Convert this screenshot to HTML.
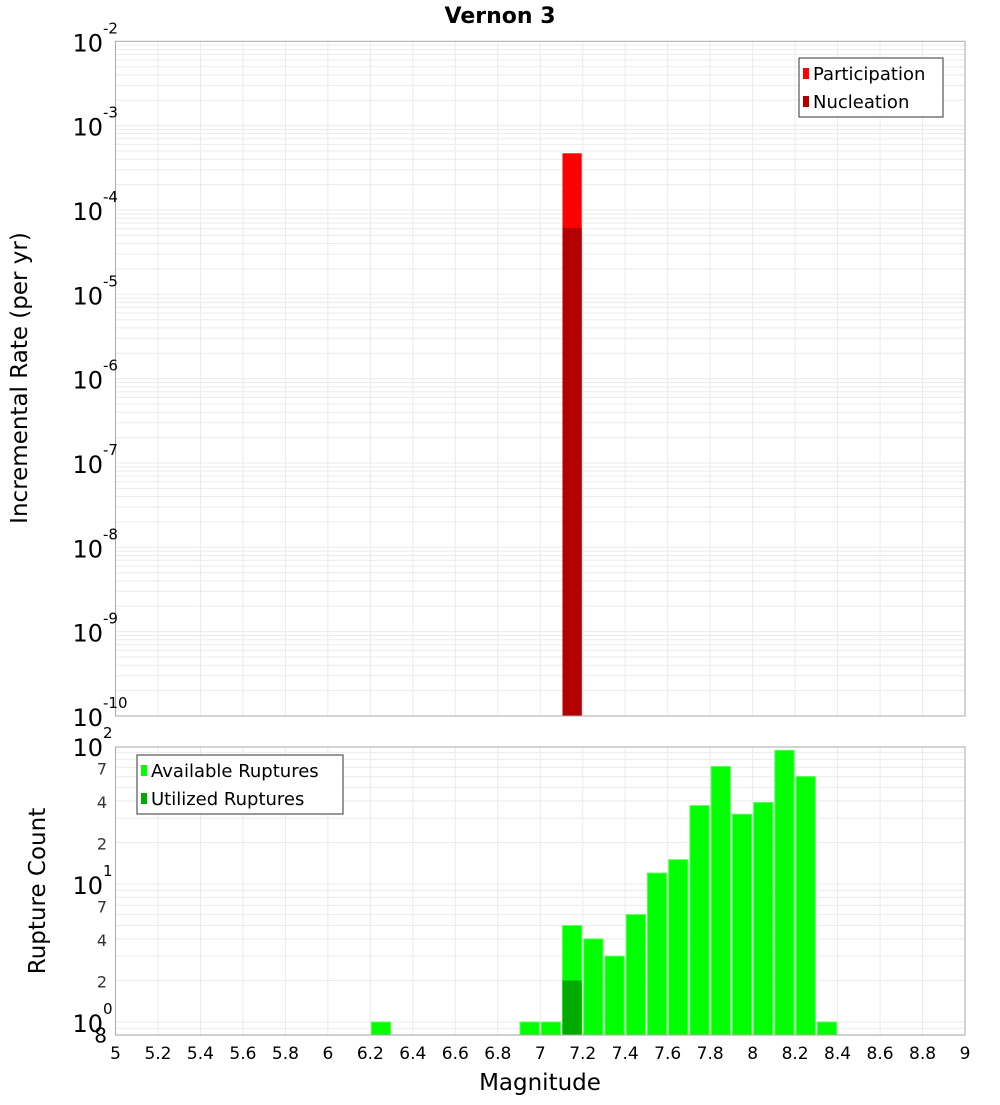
<!DOCTYPE html>
<html><head><meta charset="utf-8"><style>
body{margin:0;background:#fff;font-family:"Liberation Sans","DejaVu Sans",sans-serif}
svg text{font-family:"DejaVu Sans","Liberation Sans",sans-serif}
</style></head><body>
<svg id="chart" width="1000" height="1100" xmlns="http://www.w3.org/2000/svg">
<text x="500" y="23" text-anchor="middle" font-size="22" font-weight="bold">Vernon 3</text>
<g id="top"></g>
<g id="bot"></g>
<text transform="translate(27,378) rotate(-90)" text-anchor="middle" font-size="23">Incremental Rate (per yr)</text>
<text transform="translate(45,891) rotate(-90)" text-anchor="middle" font-size="23">Rupture Count</text>
<text x="540" y="1090" text-anchor="middle" font-size="23">Magnitude</text>
</svg>
<script>
const rateMags=[7.1];
const participation=[4.7e-4];
const nucleation=[6.1e-5];
const countMags=[6.2,6.9,7.0,7.1,7.2,7.3,7.4,7.5,7.6,7.7,7.8,7.9,8.0,8.1,8.2,8.3];
const available=[1,1,1,5,4,3,6,12,15,37,71,32,39,93,60,1];
const utilizedMags=[7.1];
const utilized=[2];
const xTicks=[5,5.2,5.4,5.6,5.8,6,6.2,6.4,6.6,6.8,7,7.2,7.4,7.6,7.8,8,8.2,8.4,8.6,8.8,9];
const rateDecades=[-2,-3,-4,-5,-6,-7,-8,-9,-10];
const countLabels=[[100,"10","2"],[70,"7"],[40,"4"],[20,"2"],[10,"10","1"],[7,"7"],[4,"4"],[2,"2"],[1,"10","0"],[0.8,"8"]];

const NS="http://www.w3.org/2000/svg";
const L=115.5,R=965;
const X=m=>L+(m-5)*(R-L)/4;
const T0=41.3,T1=716, yT=v=>T0+(-2-Math.log10(v))*(T1-T0)/8;
const B0=747,B1=1035, yB=v=>1022-Math.log10(v)*138;
function mk(p,tag,a,name){const e=document.createElementNS(NS,tag);for(const k in a)e.setAttribute(k,a[k]);


p.appendChild(e);return e;}
const topG=document.getElementById('top'),botG=document.getElementById('bot');
for(let d=-10;d<-2;d++)for(let k=1;k<10;k++){const y=yT(k*Math.pow(10,d));mk(topG,'line',{x1:L,x2:R,y1:y,y2:y,stroke:'#ebebeb','stroke-width':1},'rate-gridline');}
for(const t of xTicks){mk(topG,'line',{x1:X(t),x2:X(t),y1:T0,y2:T1,stroke:'#ebebeb'},'rate-vgrid');mk(botG,'line',{x1:X(t),x2:X(t),y1:B0,y2:B1,stroke:'#ebebeb'},'count-vgrid');}
for(let d=-1;d<2;d++)for(let k=1;k<10;k++){const v=k*Math.pow(10,d);if(v<0.8||v>100)continue;const y=yB(v);mk(botG,'line',{x1:L,x2:R,y1:y,y2:y,stroke:'#ebebeb'},'count-gridline');}
rateMags.forEach((m,i)=>{mk(topG,'rect',{x:X(m)+1,y:yT(participation[i]),width:X(m+0.1)-X(m)-2,height:T1-yT(participation[i]),fill:'#ff0000'},'participation-bar');
mk(topG,'rect',{x:X(m)+1,y:yT(nucleation[i]),width:X(m+0.1)-X(m)-2,height:T1-yT(nucleation[i]),fill:'#b30000'},'nucleation-bar');});
mk(topG,'rect',{x:L,y:T0,width:R-L,height:T1-T0,fill:'none',stroke:'#aaa'},'rate-plot-border');
rateDecades.forEach(d=>{const y=yT(Math.pow(10,d));const t=mk(topG,'text',{x:103,y:y+10,'text-anchor':'end','font-size':24},'rate-tick-label');t.textContent='10';const s=mk(topG,'text',{x:103,y:y-8,'font-size':15},'rate-tick-exp');s.textContent=String(d);});
countMags.forEach((m,i)=>{const y=yB(available[i]);mk(botG,'rect',{x:X(m)+1,y:y,width:X(m+0.1)-X(m)-2,height:B1-y,fill:'#00ff00',stroke:'#55ff55','stroke-width':1},'available-bar');});
utilizedMags.forEach((m,i)=>{const y=yB(utilized[i]);mk(botG,'rect',{x:X(m)+1,y:y,width:X(m+0.1)-X(m)-2,height:B1-y,fill:'#00aa00'},'utilized-bar');});
mk(botG,'rect',{x:L,y:B0,width:R-L,height:B1-B0,fill:'none',stroke:'#aaa'},'count-plot-border');
countLabels.forEach(c=>{const y=yB(c[0]);if(c.length===3){const t=mk(botG,'text',{x:103,y:y+10,'text-anchor':'end','font-size':24},'count-tick-label');t.textContent=c[1];const s=mk(botG,'text',{x:103,y:y-8,'font-size':15},'count-tick-exp');s.textContent=c[2];}else{const t=mk(botG,'text',{x:107,y:y+7,'text-anchor':'end','font-size':c[0]<1?20:16,fill:c[0]<1?'#000':'#333'},'count-tick-label');t.textContent=c[1];}});
xTicks.forEach(t=>{const e=mk(botG,'text',{x:X(t),y:1059,'text-anchor':'middle','font-size':17},'x-tick-label');e.textContent=String(t);});
function legend(p,x,y,w,items,name){const g=mk(p,'g',{},name);mk(g,'rect',{x:x,y:y,width:w,height:59,fill:'#fff',stroke:'#333'},'legend-box');
items.forEach((it,i)=>{mk(g,'rect',{x:x+4,y:y+10+i*28,width:6,height:11,fill:it[1]},'legend-swatch');const t=mk(g,'text',{x:x+14,y:y+22+i*28,'font-size':18},'legend-entry');t.textContent=it[0];});}
legend(topG,799,58,144,[["Participation","#ff0000"],["Nucleation","#b30000"]],'rate-legend');
legend(botG,137,755,206,[["Available Ruptures","#00ff00"],["Utilized Ruptures","#00aa00"]],'count-legend');
</script>
</body></html>
